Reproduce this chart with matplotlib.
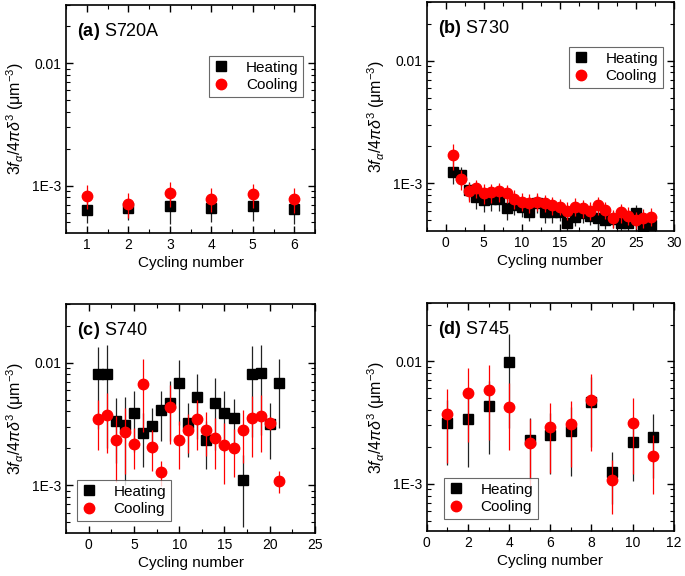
import numpy as np
import matplotlib
matplotlib.use('Agg')
import matplotlib.pyplot as plt
from matplotlib.ticker import FixedLocator, NullFormatter, MultipleLocator

plt.rcParams['font.family'] = ['Liberation Sans', 'DejaVu Sans']
plt.rcParams['mathtext.fontset'] = 'custom'
plt.rcParams['mathtext.rm'] = 'Liberation Sans'
plt.rcParams['mathtext.it'] = 'Liberation Sans:italic'
plt.rcParams['mathtext.bf'] = 'Liberation Sans:bold'

# ---- data (values in um^-3) ----
# (a) S720A
a_cycle = [1, 2, 3, 4, 5, 6]
a_heat = [6.33e-4, 6.53e-4, 6.8e-4, 6.53e-4, 6.78e-4, 6.5e-4]
a_heat_err = [1.4e-4, 1.3e-4, 1.9e-4, 1.5e-4, 1.6e-4, 1.6e-4]
a_cool = [8.24e-4, 7.05e-4, 8.66e-4, 7.78e-4, 8.5e-4, 7.75e-4]
a_cool_err = [1.8e-4, 1.6e-4, 2.0e-4, 1.7e-4, 1.9e-4, 1.75e-4]

# (b) S730
b_cycle = list(range(1, 28))
b_heat = [1.25e-3, 1.16e-3, 8.8e-4, 7.8e-4, 7.35e-4, 7.5e-4, 7.5e-4, 6.27e-4, 6.68e-4,
          6.48e-4, 5.9e-4, 6.9e-4, 5.8e-4, 5.8e-4, 5.9e-4, 4.8e-4, 5.37e-4, 5.7e-4,
          5.47e-4, 5.27e-4, 5.04e-4, 5.1e-4, 4.8e-4, 4.8e-4, 5.7e-4, 4.38e-4, 4.58e-4]
b_heat_err = [2.7e-4, 2.0e-4, 1.5e-4, 1.6e-4, 1.5e-4, 1.5e-4, 1.5e-4, 1.2e-4, 1.2e-4,
              1.2e-4, 1.0e-4, 1.2e-4, 1.0e-4, 1.0e-4, 1.0e-4, 0.8e-4, 0.9e-4, 0.9e-4,
              0.9e-4, 0.9e-4, 0.8e-4, 0.8e-4, 0.8e-4, 0.8e-4, 1.0e-4, 0.7e-4, 0.7e-4]
b_cool = [1.69e-3, 1.08e-3, 8.6e-4, 9.15e-4, 8.35e-4, 8.45e-4, 8.6e-4, 8.35e-4, 7.5e-4,
          7.12e-4, 6.99e-4, 7.12e-4, 6.9e-4, 6.68e-4, 6.48e-4, 6.0e-4, 6.48e-4, 6.27e-4,
          6.0e-4, 6.68e-4, 6.1e-4, 5.2e-4, 5.8e-4, 5.47e-4, 5.04e-4, 5.27e-4, 5.37e-4]
b_cool_err = [4.0e-4, 2.0e-4, 1.5e-4, 1.5e-4, 1.5e-4, 1.5e-4, 1.5e-4, 1.4e-4, 1.3e-4,
              1.2e-4, 1.2e-4, 1.2e-4, 1.1e-4, 1.1e-4, 1.0e-4, 1.0e-4, 1.1e-4, 1.0e-4,
              1.0e-4, 1.1e-4, 1.0e-4, 0.9e-4, 1.0e-4, 0.9e-4, 0.8e-4, 0.9e-4, 0.9e-4]

# (c) S740
c_cycle = list(range(1, 22))
c_heat = [8.08e-3, 8.0e-3, 3.32e-3, 3.11e-3, 3.86e-3, 2.65e-3, 3.04e-3, 4.1e-3, 4.7e-3,
          6.8e-3, 3.2e-3, 5.2e-3, 2.36e-3, 4.7e-3, 3.88e-3, 3.51e-3, 1.11e-3, 8.08e-3,
          8.28e-3, 3.15e-3, 6.85e-3]
c_heat_err = [5.2e-3, 6.0e-3, 1.8e-3, 2.1e-3, 2.0e-3, 1.25e-3, 1.2e-3, 1.8e-3, 2.4e-3,
              3.7e-3, 1.5e-3, 2.8e-3, 1.0e-3, 2.75e-3, 2.0e-3, 1.5e-3, 0.65e-3, 5.6e-3,
              5.7e-3, 1.5e-3, 3.9e-3]
c_cool = [3.46e-3, 3.73e-3, 2.36e-3, 2.73e-3, 2.16e-3, 6.7e-3, 2.06e-3, 1.28e-3, 4.37e-3,
          2.36e-3, 2.82e-3, 3.45e-3, 2.85e-3, 2.45e-3, 2.12e-3, 2.03e-3, 2.82e-3, 3.51e-3,
          3.66e-3, 3.23e-3, 1.08e-3]
c_cool_err = [1.5e-3, 1.9e-3, 1.3e-3, 1.5e-3, 0.8e-3, 4.0e-3, 0.75e-3, 0.3e-3, 2.2e-3,
              1.0e-3, 1.0e-3, 1.5e-3, 1.1e-3, 1.1e-3, 1.1e-3, 0.85e-3, 1.3e-3, 1.8e-3,
              1.8e-3, 0.4e-3, 0.22e-3]

# (d) S745
d_cycle = list(range(1, 12))
d_heat = [3.11e-3, 3.38e-3, 4.35e-3, 9.87e-3, 2.27e-3, 2.5e-3, 2.71e-3, 4.69e-3, 1.25e-3,
          2.21e-3, 2.42e-3]
d_heat_err = [1.7e-3, 2.0e-3, 2.6e-3, 7.0e-3, 1.2e-3, 1.3e-3, 1.55e-3, 2.7e-3, 0.57e-3,
              1.15e-3, 1.3e-3]
d_cool = [3.72e-3, 5.5e-3, 5.78e-3, 4.27e-3, 2.15e-3, 2.88e-3, 3.08e-3, 4.84e-3, 1.07e-3,
          3.11e-3, 1.67e-3]
d_cool_err = [2.25e-3, 3.3e-3, 3.5e-3, 2.4e-3, 1.2e-3, 1.65e-3, 1.7e-3, 3.0e-3, 0.5e-3,
              1.9e-3, 0.85e-3]

ytick_vals = [1e-3, 1e-2]
ytick_text = ['1E-3', '0.01']
ylabel = '3$f_{\\alpha}$/4$\\pi\\delta^3$ (\u03bcm$^{-3}$)'

fig = plt.figure(figsize=(6.85, 5.76), dpi=100)


def makePanel(rect, x, heat, heat_err, cool, cool_err, tag, name,
              xlim, xmajor, xticks, legloc, legpos):
    ax = fig.add_axes(rect)
    ax.set_yscale('log')

    # error bars first, markers on top
    ax.errorbar(x, heat, yerr=heat_err, fmt='none', ecolor='#222222', elinewidth=0.9, zorder=2)
    h1, = ax.plot(x, heat, 's', color='black', ms=7, zorder=3, label='Heating')
    ax.errorbar(x, cool, yerr=cool_err, fmt='none', ecolor='red', elinewidth=0.9, zorder=4)
    h2, = ax.plot(x, cool, 'o', color='red', ms=7.5, zorder=5, label='Cooling')

    ax.set_xlim(xlim)
    ax.set_ylim(4.1e-4, 3.0e-2)
    ax.set_xticks(xticks)
    ax.xaxis.set_minor_locator(MultipleLocator(xmajor / 2.0))
    ax.yaxis.set_major_locator(FixedLocator(ytick_vals))
    ax.set_yticklabels(ytick_text)
    minors = [m * 10.0 ** e for e in (-4, -3, -2) for m in range(2, 10)]
    ax.yaxis.set_minor_locator(FixedLocator(minors))
    ax.yaxis.set_minor_formatter(NullFormatter())

    ax.tick_params(which='both', direction='in', top=True, right=True, labelsize=10)
    ax.tick_params(which='major', length=5, width=1)
    ax.tick_params(which='minor', length=3, width=0.8)
    for s in ax.spines.values():
        s.set_linewidth(1.2)

    ax.set_xlabel('Cycling number', fontsize=11, labelpad=3)
    ax.set_ylabel(ylabel, fontsize=11.5, labelpad=4)

    ax.text(0.045, 0.865, r'$\mathbf{(' + tag + ')}$ ' + name, transform=ax.transAxes,
            fontsize=13, va='baseline', ha='left')

    leg = ax.legend(handles=[h1, h2], loc=legloc, bbox_to_anchor=legpos, borderaxespad=0,
                    fontsize=11, frameon=True, fancybox=False, handlelength=1.0,
                    handletextpad=1.1, labelspacing=0.25, borderpad=0.3, numpoints=1)
    leg.get_frame().set_edgecolor('#444444')
    leg.get_frame().set_linewidth(0.8)
    return ax


makePanel([0.0964, 0.5955, 0.3635, 0.396], a_cycle, a_heat, a_heat_err, a_cool, a_cool_err,
          'a', 'S720A', (0.5, 6.5), 1, [1, 2, 3, 4, 5, 6], 'upper right', (0.952, 0.776))
makePanel([0.623, 0.599, 0.3606, 0.3976], b_cycle, b_heat, b_heat_err, b_cool, b_cool_err,
          'b', 'S730', (-2.5, 30), 5, [0, 5, 10, 15, 20, 25, 30], 'upper right', (0.955, 0.803))
makePanel([0.0964, 0.0747, 0.3635, 0.3976], c_cycle, c_heat, c_heat_err, c_cool, c_cool_err,
          'c', 'S740', (-2.5, 25), 5, [0, 5, 10, 15, 20, 25], 'lower left', (0.044, 0.052))
makePanel([0.623, 0.078, 0.3606, 0.396], d_cycle, d_heat, d_heat_err, d_cool, d_cool_err,
          'd', 'S745', (0, 12), 2, [0, 2, 4, 6, 8, 10, 12], 'lower left', (0.069, 0.053))

fig.savefig('out.png', dpi=100)
